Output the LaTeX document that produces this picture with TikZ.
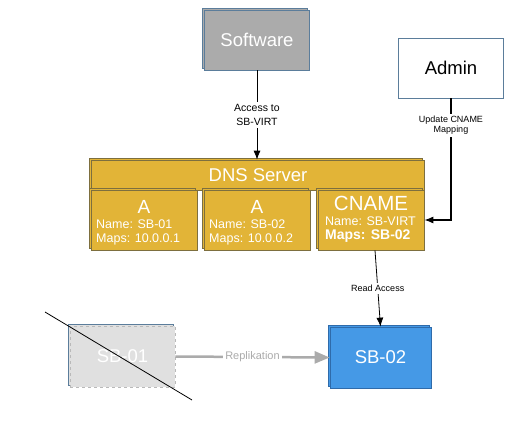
\documentclass[tikz,border=0pt]{standalone}
\usepackage{fontspec}
\setmainfont{Liberation Sans}
\usetikzlibrary{arrows.meta, shadows}
\usepackage{xcolor}

\definecolor{dnsgold}{HTML}{E2B437}
\definecolor{dnsedge}{HTML}{7D6F3F}
\definecolor{stackedge}{HTML}{5B7D9B}
\definecolor{softgray}{HTML}{ABABAB}
\definecolor{sbblue}{HTML}{4599E6}
\definecolor{sbedge}{HTML}{2F6BAA}
\definecolor{deadgray}{HTML}{E0E0E0}
\definecolor{repgray}{HTML}{ABABAB}

\newcommand{\setfs}[2]{\fontsize{#1}{#2}\selectfont}

\begin{document}
\begin{tikzpicture}[x=1pt,y=-1pt,>={Latex[length=9pt,width=7pt]},
        stackbox/.style={rectangle, draw, inner sep=0pt, line width=0.7pt, copy shadow={shadow xshift=-2pt, shadow yshift=2pt, #1}},
        stackbox/.default={},
        dnsbox/.style={stackbox, fill=dnsgold, draw=dnsedge, text=white},
        recdata/.style={anchor=west, text=white, align=left, inner sep=0pt, font=\setfs{12.5}{14}},
        connlabel/.style={fill=white, align=center, inner sep=2pt}]
        \useasboundingbox (0,0) rectangle (517,444);

        \node at (257,40) [stackbox, fill=softgray, draw=stackedge, text=white, minimum width=105pt, minimum height=60pt, font=\setfs{18.5}{20}] (software) {Software};
        \node at (451,68) [rectangle, draw=stackedge, line width=0.7pt, minimum width=105pt, minimum height=60pt, font=\setfs{18.5}{20}] (admin) {Admin};

        % dns server with its records
        \node at (258,175) [dnsbox, minimum width=333pt, minimum height=30pt, font=\setfs{18.5}{20}] (dns) {DNS Server};
        \node at (144,220) [dnsbox, minimum width=106pt, minimum height=60pt] (rec_a1) {};
        \node at (257,220) [dnsbox, minimum width=106pt, minimum height=60pt] (rec_a2) {};
        \node at (371,220) [dnsbox, minimum width=106pt, minimum height=60pt] (rec_cname) {};

        \node at (144,207) [text=white, inner sep=0pt, font=\setfs{19}{20}] (rec_a1_type) {A};
        \node at (96,232) [recdata] (rec_a1_data) {Name: SB-01\\Maps: 10.0.0.1};
        \node at (257,207) [text=white, inner sep=0pt, font=\setfs{19}{20}] (rec_a2_type) {A};
        \node at (209,232) [recdata] (rec_a2_data) {Name: SB-02\\Maps: 10.0.0.2};
        \node at (371,203) [text=white, inner sep=0pt, font=\setfs{20.5}{20}] (rec_cname_type) {CNAME};
        \node at (325,230) [recdata] (rec_cname_data) {Name: SB-VIRT\\ \setfs{14}{14}\bfseries Maps: SB-02};

        % servers
        \node at (122.5,356.5) [stackbox={draw=stackedge, solid}, fill=deadgray, draw=gray!55, dashed, text=white, minimum width=105pt, minimum height=61pt, font=\setfs{18.5}{20}] (sb01) {SB-01};
        \node at (380.5,357.5) [stackbox, fill=sbblue, draw=sbedge, text=white, minimum width=101pt, minimum height=61pt, font=\setfs{18.5}{20}] (sb02) {SB-02};

        \coordinate (cross_start) at (45,312);
        \coordinate (cross_end) at (192,400);

        \draw[->, line width=0.8pt] (software.south) -- node[connlabel, font=\setfs{10.5}{14}]{Access to\\SB-VIRT} (software.south |- dns.north);
        \draw[->, line width=1.2pt] (admin.south) |- node[connlabel, pos=0.11, font=\setfs{9}{10.5}]{Update CNAME\\Mapping} (rec_cname.east);
        \draw[->, line width=0.8pt] ([xshift=4pt]rec_cname.south) -- node[connlabel, font=\setfs{9}{11}]{Read Access} (sb02.north);
        \draw[-{Triangle[length=15pt,width=12pt]}, line width=2.5pt, repgray] (sb01.east) -- node[connlabel, text=repgray, font=\setfs{11}{13}]{Replikation} (sb02.west);
        \draw[line width=0.8pt] (cross_start) -- (cross_end);
\end{tikzpicture}
\end{document}
